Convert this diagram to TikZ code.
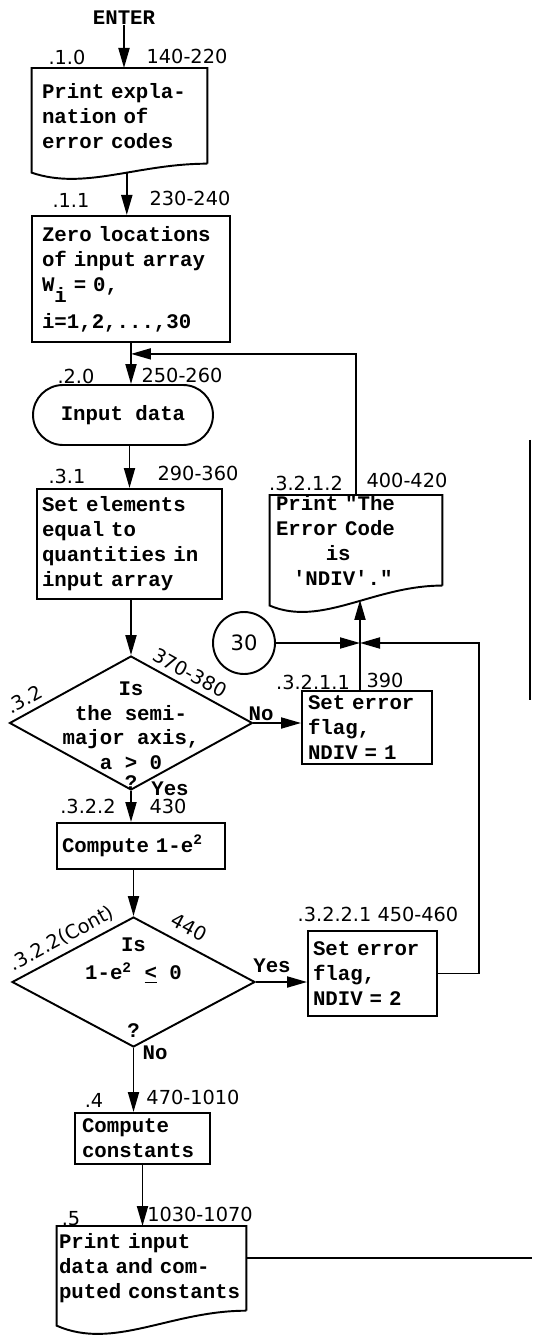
\documentclass[tikz,border=0pt]{standalone}
\usepackage{fontspec}
\setmonofont{Liberation Mono}[WordSpace={1,0,0}]
\newfontfamily\lettering{DejaVu Sans}
\usetikzlibrary{positioning,arrows.meta,shapes.geometric,calc}

\newcommand{\twfont}{\fontsize{11.8}{14.2}\selectfont\ttfamily\bfseries}
\newcommand{\lblfont}{\fontsize{11}{13}\selectfont\lettering}

% document symbol: square top, wavy bottom (#2 = drop of left end, #3 = depth of the wave)
\newcommand{\docoutline}[3]{%
  \draw[line] (#1.south east) -- (#1.north east) -- (#1.north west)
    -- ([yshift=-#2]#1.south west)
    .. controls ($(#1.south west)!0.3!(#1.south east)+(0,-#3)$)
           and ($(#1.south west)!0.6!(#1.south east)$)
    .. (#1.south east) coordinate[pos=0.58] (#1w);}

\begin{document}
\begin{tikzpicture}[
		x=0.02cm, y=-0.02cm,
		line/.style={line width=1.1pt},
		arr/.style={line width=1.1pt, -{Triangle[length=0.4cm, width=0.22cm]}},
		tw/.style={font=\twfont, inner sep=0pt},
		lbl/.style={font=\lblfont, inner sep=1pt},
		box/.style={draw, line width=1.1pt, tw, align=left, anchor=north},
		doc/.style={tw, align=left, anchor=north},
		decision/.style={diamond, draw, line width=1.1pt, inner sep=0pt, minimum width=4.86cm, minimum height=2.68cm},
		term/.style={draw, line width=1.1pt, rounded corners=0.6cm, tw, minimum width=3.6cm, minimum height=1.2cm},
		conn/.style={circle, draw, line width=1.1pt, inner sep=0pt, minimum size=1.24cm, font=\fontsize{12}{14}\selectfont\lettering}
		]
		\useasboundingbox (0,0) rectangle (532,1337);
		
		% main column
		\node[tw] (enter) at (124,18) {ENTER};
		\node[doc, text width=3.1cm, inner xsep=0.2cm, minimum height=1.9cm] (b1) at (119.5,68) {Print expla-\\nation of\\error codes};
		\docoutline{b1}{0.18cm}{0.54cm}
		\node[box, text width=3.56cm, inner xsep=0.2cm, minimum height=2.52cm] (b2) at (131,215) {Zero locations\\of input array\\W\raisebox{-0.55em}{i} = 0,\\[5pt]i=1,2,...,30};
		\node[term] (inp) at (123,415) {Input data};
		\node[box, text width=3.5cm, inner xsep=0.1cm, minimum height=2.2cm] (b3) at (129.5,488) {Set elements\\equal to\\quantities in\\input array};
		\node[decision] (d1) at (131,723) {};
		\node[tw, align=center] (d1t) at ([yshift=-0.25cm]d1.center) {Is\\the semi-\\major axis,\\a > 0\\[-3pt]?};
		\node[box, text width=3.16cm, inner xsep=0.1cm, minimum height=0.92cm] (b5) at (141,822) {Compute 1-e\textsuperscript{2}};
		\node[decision, minimum height=2.6cm] (d2) at (133.5,982) {};
		\node[tw, align=center] (d2t) at ([yshift=-0.12cm]d2.center) {Is\\[1.8pt]1-e\textsuperscript{2} \underline{<} 0\\[18.8pt]?};
		\node[box, text width=2.42cm, inner xsep=0.14cm, minimum height=1.02cm] (b8) at (142.5,1112) {Compute\\constants};
		\node[doc, text width=3.7cm, inner xsep=0.04cm, minimum height=1.68cm] (b9) at (151.5,1226) {Print input\\data and com-\\puted constants};
		\docoutline{b9}{0.3cm}{0.8cm}
		
		% error branch
		\node[box, text width=2.36cm, inner xsep=0.12cm, minimum height=1.46cm] (b4) at (367,690) {Set error\\flag,\\NDIV = 1};
		\node[box, text width=2.38cm, inner xsep=0.1cm, minimum height=1.7cm] (b6) at (372.5,930) {Set error\\flag,\\NDIV = 2};
		\node[doc, text width=3.2cm, inner xsep=0.12cm, minimum height=1.76cm] (b7) at (356,495) {Print "The\\Error Code\\\phantom{xxxx}is\\\hspace*{0.34cm}'NDIV'."};
		\docoutline{b7}{0.4cm}{0.84cm}
		\node[conn] (c30) at (244,643) {30};
		\coordinate (x1) at (360,643);
		\path (b2.south) ++(0,11) coordinate (j1);
		\coordinate (off) at (532,1258);
		\coordinate (pgtop) at (530,440);
		\coordinate (pgbot) at (530,700);
		
		% step numbers and statement numbers
		\node[lbl] (l10) at (67,57) {.1.0};
		\node[lbl] (n10) at (187,56) {140-220};
		\node[lbl] (l11) at (71,200) {.1.1};
		\node[lbl] (n11) at (190,198) {230-240};
		\node[lbl] (l20) at (76,376) {.2.0};
		\node[lbl] (n20) at (182,375) {250-260};
		\node[lbl] (l31) at (67,476) {.3.1};
		\node[lbl] (n31) at (198,473) {290-360};
		\node[lbl] (l3212) at (306,483) {.3.2.1.2};
		\node[lbl] (n3212) at (407,480) {400-420};
		\node[lbl] (l3211) at (313,682) {.3.2.1.1};
		\node[lbl] (n3211) at (385,680) {390};
		\node[lbl] (l322) at (88,806) {.3.2.2};
		\node[lbl] (n322) at (168,806) {430};
		\node[lbl] (l3221) at (378,914) {.3.2.2.1 450-460};
		\node[lbl] (l4) at (94,1100) {.4};
		\node[lbl] (n4) at (193,1097) {470-1010};
		\node[lbl] (l5) at (71,1219) {.5};
		\node[lbl] (n5) at (200,1214) {1030-1070};
		\path (d1.west) -- (d1.north) node[lbl, pos=0.18, sloped, above=2pt] (l32) {.3.2};
		\path (d1.north) -- (d1.east) node[lbl, pos=0.43, sloped, above=2pt] (n32) {370-380};
		\path (d2.west) -- (d2.north) node[lbl, pos=0.47, sloped, above=2pt] (l322c) {.3.2.2(Cont)};
		\path (d2.north) -- (d2.east) node[lbl, pos=0.39, sloped, above=4pt] (n322c) {440};
		
		% branch answers
		\node[tw] (no1) at (261,714) {No};
		\node[tw] (yes1) at (170,789) {Yes};
		\node[tw] (yes2) at (272,966) {Yes};
		\node[tw] (no2) at (155,1053) {No};
		
		% flow lines
		\draw[arr] (enter.south) -- (enter.south |- b1.north);
		\draw[arr] (b1w) -- (b1w |- b2.north);
		\draw[arr] (b2.south) -- (b2.south |- inp.north);
		\draw[arr] (b7.north) |- (j1);
		\draw[arr] (inp.south -| b3.north) -- (b3.north);
		\draw[arr] (b3.south -| d1.north) -- (d1.north);
		\draw[arr] (d1.east) -- (d1.east -| b4.west);
		\draw[arr] (d1.south) -- (d1.south |- b5.north);
		\draw[arr] (b5.south -| d2.north) -- (d2.north);
		\draw[arr] (d2.east) -- (d2.east -| b6.west);
		\draw[arr] (d2.south) -- (d2.south |- b8.north);
		\draw[arr] (b8.south) -- (b8.south |- b9.north);
		\draw[arr] (c30) -- (x1);
		\draw[arr] (b6.east) -- ++(41,0) |- (x1);
		\draw[line] (b4.north -| x1) -- (x1);
		\draw[arr] (x1) -- (x1 |- b7w);
		\draw[line] (b9.east |- off) -- (off);
		\draw[line width=0.8pt] (pgtop) -- (pgbot);
		
	\end{tikzpicture}
\end{document}
